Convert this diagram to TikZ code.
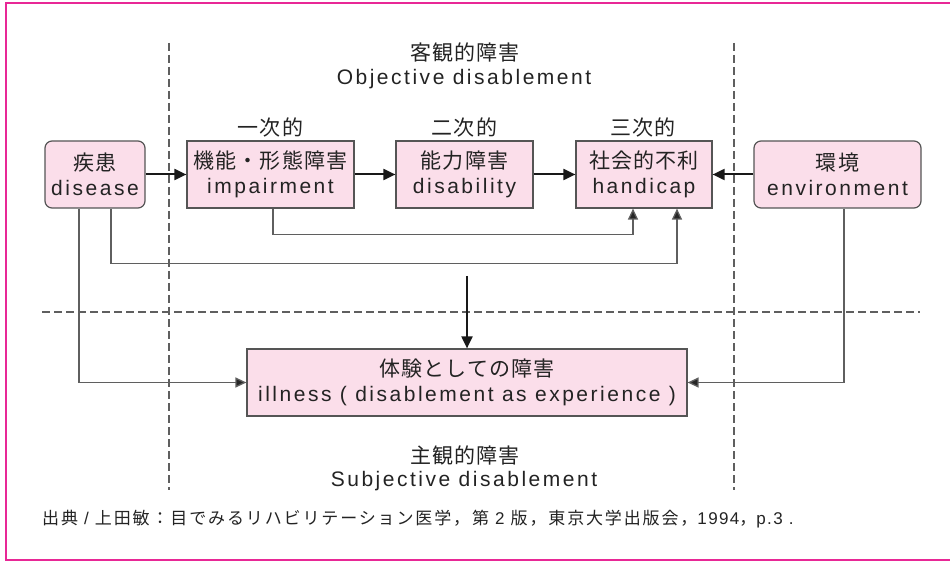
\documentclass[tikz,border=0pt]{standalone}
\usepackage{fontspec}
\setmainfont[LetterSpace=12]{Liberation Sans}
\newfontfamily\jpfont[LetterSpace=5]{Noto Sans CJK JP}
\newfontfamily\jpcite[LetterSpace=11]{Noto Sans CJK JP}
\newfontfamily\latcite[LetterSpace=8]{Liberation Sans}
\newcommand{\jtxt}[1]{{\jpfont #1}}
\newcommand{\jc}[1]{{\jpcite #1}}
\usetikzlibrary{arrows.meta,calc}
\definecolor{frame}{RGB}{232,40,150}
\definecolor{boxfill}{RGB}{251,222,234}
\definecolor{boxline}{RGB}{85,85,85}
\definecolor{dashc}{RGB}{95,95,95}
\definecolor{connc}{RGB}{95,95,95}
\definecolor{txt}{RGB}{35,35,35}
\tikzset{
  every node/.style={text=txt},
  bigfont/.style={font=\fontsize{21}{25}\selectfont},
  pbox/.style={draw=boxline, line width=1.2pt, fill=boxfill, minimum height=67pt,
    inner sep=0pt, align=center, bigfont},
  rbox/.style={pbox, rounded corners=7pt},
  divider/.style={draw=dashc, line width=1.1pt, dash pattern=on 8pt off 4pt},
  mainarrow/.style={draw=black!90, line width=2pt, -{Triangle[length=12pt,width=11pt]}},
  conn/.style={draw=connc, line width=1.3pt, -{Triangle[length=11pt,width=10pt,fill=black!85]}},
  lbl/.style={bigfont, inner sep=0pt},
}
\begin{document}
\begin{tikzpicture}[x=1pt,y=-1pt]
\useasboundingbox (0,0) rectangle (950,561);
% frame
\draw[frame, line width=2pt] (960,3) -- (6,3) -- (6,560) -- (960,560);
% dividers
\draw[divider] (169,43) -- (169,490);
\draw[divider] (734,43) -- (734,490);
\draw[divider] (42,312) -- (920,312);
% headings
\node[lbl] (objj) at (465,52) {\jtxt{客観的障害}};
\node[lbl] (obje) at (464,79) {Objective disablement};
\node[lbl] (subj) at (465,455) {\jtxt{主観的障害}};
\node[lbl] (sube) at (464,481) {Subjective disablement};
% boxes
\node[rbox, minimum width=100pt] (dis) at (95,174.5) {\jtxt{疾患}\\disease};
\node[pbox, minimum width=167pt] (imp) at (270.5,174.5) {\jtxt{機能・形態障害}\\impairment};
\node[pbox, minimum width=137pt] (dsb) at (464.5,174.5) {\jtxt{能力障害}\\disability};
\node[pbox, minimum width=136pt] (hcp) at (644,174.5) {\jtxt{社会的不利}\\handicap};
\node[rbox, minimum width=167pt] (env) at (837.5,174.5) {\jtxt{環境}\\environment};
\node[pbox, minimum width=440pt] (ill) at (467,382.5) {\jtxt{体験としての障害}\\illness ( disablement as experience )};
% order labels
\node[lbl] (l1) at (270.5,127) {\jtxt{一次的}};
\node[lbl] (l2) at (464.5,127) {\jtxt{二次的}};
\node[lbl] (l3) at (643,127) {\jtxt{三次的}};
% main arrows
\draw[mainarrow] (dis.east) -- (imp.west);
\draw[mainarrow] (imp.east) -- (dsb.west);
\draw[mainarrow] (dsb.east) -- (hcp.west);
\draw[mainarrow] (env.west) -- (hcp.east);
\coordinate (vtop) at (467,276);
\draw[mainarrow] (vtop) -- (ill.north);
% side connectors
\draw[conn] ([xshift=2.5pt]imp.south) -- ++(0,26) -| ([xshift=-11pt]hcp.south);
\draw[conn] ([xshift=16pt]dis.south) -- ++(0,55) -| ([xshift=33pt]hcp.south);
\draw[conn] ([xshift=-16pt]dis.south) |- (ill.west);
\draw[conn] ([xshift=6.5pt]env.south) |- (ill.east);
% citation
\node[anchor=west, inner sep=0pt, font=\fontsize{17}{20}\latcite] (cite) at (42,519)
  {\jc{出典} / \jc{上田敏：目でみるリハビリテーション医学，第} 2 \jc{版，東京大学出版会，}1994\jc{，}p.3 .};
\end{tikzpicture}
\end{document}
